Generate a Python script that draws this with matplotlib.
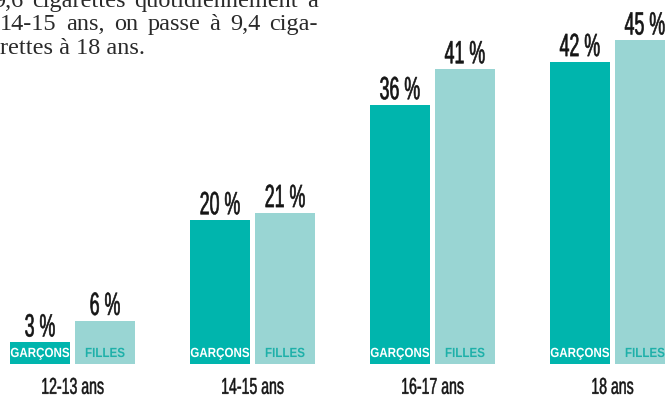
import numpy as np
import matplotlib.pyplot as plt
from matplotlib.patheffects import AbstractPathEffect
from matplotlib.transforms import Affine2D

ages = ['12-13 ans', '14-15 ans', '16-17 ans', '18 ans']
garcons = [3, 20, 36, 42]
filles = [6, 21, 41, 45]

intro = ['9,6 cigarettes quotidiennement à',
         '14-15 ans, on passe à 9,4 ciga-',
         'rettes à 18 ans.']

c_garcons = '#00b5ad'
c_filles = '#99d5d3'
c_filles_txt = '#1eb0a9'
sans = ['Liberation Sans', 'DejaVu Sans']
serif = ['Liberation Serif', 'DejaVu Serif']


class Etroit(AbstractPathEffect):
    """Resserre le texte horizontalement (police condensée), avec un léger contour."""

    def __init__(self, sx, sy=1.0, lw=0.0):
        super().__init__()
        self.sx, self.sy, self.lw = sx, sy, lw

    def draw_path(self, renderer, gc, tpath, affine, rgbFace=None):
        ext = tpath.get_extents()
        cx = (ext.x0 + ext.x1) / 2
        t = Affine2D().translate(-cx, 0).scale(self.sx, self.sy).translate(cx, 0) + affine
        gc0 = renderer.new_gc()
        gc0.copy_properties(gc)
        if self.lw and rgbFace is not None:
            gc0.set_linewidth(self.lw)
            gc0.set_foreground(rgbFace)
        renderer.draw_path(gc0, tpath, t, rgbFace)
        gc0.restore()


W, H = 665, 397
fig = plt.figure(figsize=(W / 100, H / 100), dpi=100)
ax = fig.add_axes([0, 0, 1, 1])
ax.set_xlim(-0.403, 3.292)
ax.set_ylim(-4.59, 50.63)
ax.axis('off')

x = np.arange(len(ages))
w = 0.333
off = 0.1806
ax.bar(x - off, garcons, w, color=c_garcons)
ax.bar(x + off, filles, w, color=c_filles)

for i in range(len(ages)):
    # valeurs au-dessus des barres
    for xx, v in ((x[i] - off, garcons[i]), (x[i] + off, filles[i])):
        ax.text(xx, v + 0.83, f'{v} %', ha='center', va='baseline', family=sans,
                fontsize=17.8, color='#151515',
                path_effects=[Etroit(0.72, 1.3, lw=0.45)])
    # étiquettes dans les barres
    ax.text(x[i] - off, 0.97, 'GARÇONS', ha='center', va='baseline', family=sans,
            fontweight='bold', fontsize=9.6, color='white',
            path_effects=[Etroit(0.87)])
    ax.text(x[i] + off, 0.97, 'FILLES', ha='center', va='baseline', family=sans,
            fontweight='bold', fontsize=9.6, color=c_filles_txt,
            path_effects=[Etroit(0.87)])
    ax.text(x[i], -4.15, ages[i], ha='center', va='baseline', family=sans,
            fontsize=12.7, color='#151515',
            path_effects=[Etroit(0.8, 1.3, lw=0.35)])

# texte d'introduction, justifié sur les deux premières lignes
fig.canvas.draw()
rend = fig.canvas.get_renderer()
left = [-7, 0, 0]
right = 318
for j, line in enumerate(intro):
    y = 1 - (7 + 23.3 * j) / H
    if j == len(intro) - 1:
        fig.text(left[j] / W, y, line, ha='left', va='baseline', family=serif,
                 fontsize=17.5, color='#2a2a2a')
        continue
    words = line.split()
    objs = [fig.text(0, y, m, ha='left', va='baseline', family=serif,
                     fontsize=17.5, color='#2a2a2a') for m in words]
    widths = [o.get_window_extent(rend).width for o in objs]
    gap = (right - left[j] - sum(widths)) / (len(words) - 1)
    pos = left[j]
    for o, wd in zip(objs, widths):
        o.set_x(pos / W)
        pos += wd + gap

fig.savefig('out.png', dpi=100)
